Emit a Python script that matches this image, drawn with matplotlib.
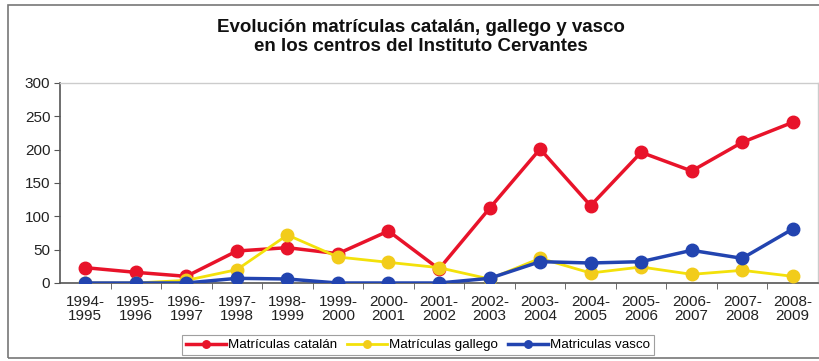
import matplotlib
matplotlib.use("Agg")
import matplotlib.pyplot as plt
from matplotlib.patches import Rectangle

plt.rcParams['font.family'] = ['Liberation Sans', 'DejaVu Sans']

years = ["1994-\n1995", "1995-\n1996", "1996-\n1997", "1997-\n1998", "1998-\n1999",
         "1999-\n2000", "2000-\n2001", "2001-\n2002", "2002-\n2003", "2003-\n2004",
         "2004-\n2005", "2005-\n2006", "2006-\n2007", "2007-\n2008", "2008-\n2009"]
catalan = [23, 16, 10, 48, 53, 44, 78, 21, 112, 201, 116, 196, 168, 211, 241]
gallego = [0, 0, 4, 20, 72, 39, 31, 23, 6, 37, 15, 24, 13, 19, 10]
vasco = [0, 0, 0, 7, 6, 0, 0, 0, 7, 32, 30, 32, 49, 37, 81]

fig = plt.figure(figsize=(8.19, 3.61), dpi=100)
W, H = 819, 361
ax = fig.add_axes([60 / W, (H - 283) / H, (818 - 60) / W, 200 / H])

x = list(range(len(years)))
ax.plot(x, catalan, color='#E8132A', lw=2.5, marker='o', ms=9, label='Matrículas catalán', zorder=3)
ax.plot(x, gallego, color='#F3E10A', lw=2.0, marker='o', ms=9, mfc='#F2CC1A', mec='#F2CC1A',
        label='Matrículas gallego', zorder=4)
ax.plot(x, vasco, color='#2244B0', lw=2.5, marker='o', ms=9, label='Matriculas vasco', zorder=5)

ax.set_xlim(-0.5, len(years) - 0.5)
ax.set_ylim(0, 300)
ax.set_yticks([0, 50, 100, 150, 200, 250, 300])
ax.set_xticks(x)
ax.set_xticklabels(years, fontsize=11, color='#222222', linespacing=1.0)
ax.set_xticks([i + 0.5 for i in range(len(years) - 1)], minor=True)
ax.tick_params(axis='x', which='major', length=0, pad=9)
ax.tick_params(axis='x', which='minor', length=4, direction='out', color='#555555')
ax.tick_params(axis='y', labelsize=11, length=4, color='#555555', labelcolor='#222222', pad=3)
for s in ['top', 'right']:
    ax.spines[s].set_color('#cccccc')
    ax.spines[s].set_linewidth(1)
for s in ['left', 'bottom']:
    ax.spines[s].set_color('#555555')
    ax.spines[s].set_linewidth(1.2)

fig.text(421 / W, 1 - 37 / H, "Evolución matrículas catalán, gallego y vasco\nen los centros del Instituto Cervantes",
         ha='center', va='center', fontsize=13.5, fontweight='bold', linespacing=1.1, color='#111111')

leg = fig.legend(loc='center', bbox_to_anchor=(418 / W, 1 - 345 / H), ncol=3, fontsize=9.6,
                 frameon=True, fancybox=False, edgecolor='#888888', handlelength=3.0,
                 handletextpad=0.2, columnspacing=0.7, borderpad=0.3, markerscale=0.6)
leg.get_frame().set_linewidth(0.8)

fig.patches.append(Rectangle((8 / W, 1 - 358 / H), 1.0, (358 - 5) / H, transform=fig.transFigure,
                             fill=False, edgecolor='#777777', lw=1.2, clip_on=False))

fig.savefig('out.png', dpi=100)
